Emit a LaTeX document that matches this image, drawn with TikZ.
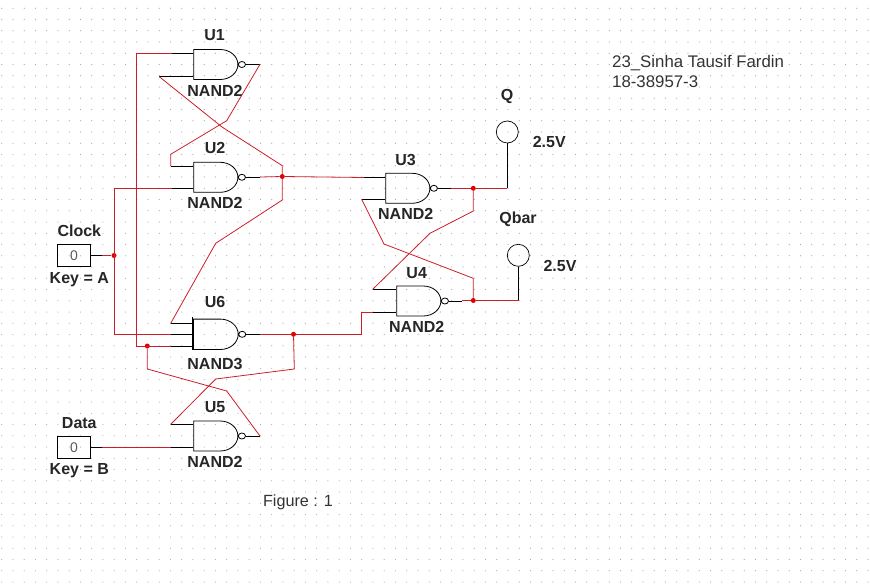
\documentclass[tikz,border=0pt]{standalone}
\usepackage{fontspec}
\setmainfont{Liberation Sans}
\usetikzlibrary{positioning,calc,shapes.gates.logic.US}
\definecolor{wirered}{RGB}{204,30,42}
\definecolor{griddot}{RGB}{170,170,170}
\tikzset{gatetwo/.style={nand gate US,draw,logic gate inputs=nn,logic gate input sep=10pt,xscale=1.18,transform shape,inner sep=0pt,logic gate inverted radius=3pt,line width=.8pt}}
\tikzset{gatethree/.style={nand gate US,draw,logic gate inputs=nnn,logic gate input sep=7.5pt,xscale=1.18,transform shape,inner sep=0pt,logic gate inverted radius=3pt,line width=.8pt}}
\tikzset{wire/.style={draw=wirered,line width=.8pt}}
\tikzset{stub/.style={draw=black,line width=.8pt}}
\tikzset{jdot/.style={circle,fill=red!90!black,minimum size=5pt,inner sep=0pt}}
\tikzset{lab/.style={font=\bfseries\fontsize{16}{16}\selectfont,text=black!85,inner sep=0pt}}
\tikzset{plain/.style={font=\fontsize{16.8}{16}\selectfont,text=black!80,inner sep=0pt}}
\tikzset{keybox/.style={draw,minimum width=33.5pt,minimum height=22pt,inner sep=0pt,line width=.7pt,font=\fontsize{14}{14}\selectfont,text=black!65}}
\tikzset{probe/.style={draw,circle,minimum size=22pt,inner sep=0pt,line width=.7pt}}

\begin{document}
\begin{tikzpicture}[x=1pt,y=-1pt]
	\useasboundingbox (0,0) rectangle (870,586);
	% grid of the drawing sheet
	\foreach \i in {0,...,77}
		\foreach \j in {0,...,51}
			\fill[griddot] (1.7+11.25*\i,8.3+11.25*\j) circle (.6pt);

	% gates
	\node[gatetwo] (U1) at (214.3,64.5) {};
	\node[gatetwo] (U2) at (214.3,177.3) {};
	\node[gatetwo] (U3) at (406.3,188.3) {};
	\node[gatetwo] (U4) at (417.3,301) {};
	\node[gatetwo] (U5) at (214.3,436) {};
	\node[gatethree] (U6) at (214.3,334.3) {};
	\coordinate (f5) at (192.3,316.7);
	\coordinate (f6) at (192.3,350);
	\draw[stub] (f5) -- (f6);

	% sources and probes
	\node[keybox] (clk) at (74,255.5) {0};
	\node[keybox] (dat) at (74,447.2) {0};
	\node[probe] (pq) at (507.3,132) {};
	\node[probe] (pqb) at (518.3,255.3) {};

	% junctions
	\node[jdot] (j1) at (114,255.5) {};
	\node[jdot] (j2) at (282.3,176.5) {};
	\node[jdot] (j3) at (473.3,188.3) {};
	\node[jdot] (j4) at (473.3,300.5) {};
	\node[jdot] (j5) at (293.5,334.3) {};
	\node[jdot] (j6) at (147.3,346) {};

	% ends of the black pins
	\coordinate (a1) at (172,53.5);
	\coordinate (a2) at (159.3,76.7);
	\coordinate (a3) at (260,64.3);
	\coordinate (b1) at (170.7,166);
	\coordinate (b2) at (172,188.3);
	\coordinate (b3) at (260,177);
	\coordinate (c1) at (364,177.5);
	\coordinate (c2) at (361.7,199.3);
	\coordinate (c3) at (450.7,188.3);
	\coordinate (d1) at (372.7,289.3);
	\coordinate (d2) at (373,312.3);
	\coordinate (d3) at (461.7,300.5);
	\coordinate (e1) at (170.7,424.3);
	\coordinate (e2) at (170.7,447.2);
	\coordinate (e3) at (260,436);
	\coordinate (f1) at (170.7,323.3);
	\coordinate (f2) at (170.7,334.3);
	\coordinate (f3) at (170.7,346);
	\coordinate (f4) at (260,334.3);
	\coordinate (cl) at (102,255.5);
	\coordinate (dl) at (102,447.2);
	\coordinate (qc) at (507.3,188.3);
	\coordinate (qbc) at (519.3,300.5);

	\draw[stub] (a1) -- (a1 -| U1.west) (a2) -- (a2 -| U1.west) (U1.output) -- (U1.output -| a3);
	\draw[stub] (b1) -- (b1 -| U2.west) (b2) -- (b2 -| U2.west) (U2.output) -- (U2.output -| b3);
	\draw[stub] (c1) -- (c1 -| U3.west) (c2) -- (c2 -| U3.west) (U3.output) -- (U3.output -| c3);
	\draw[stub] (d1) -- (d1 -| U4.west) (d2) -- (d2 -| U4.west) (U4.output) -- (U4.output -| d3);
	\draw[stub] (e1) -- (e1 -| U5.west) (e2) -- (e2 -| U5.west) (U5.output) -- (U5.output -| e3);
	\draw[stub] (f1) -- (f1 -| U6.west) (f2) -- (f2 -| U6.west) (f3) -- (f3 -| U6.west) (U6.output) -- (U6.output -| f4);
	\draw[stub] (clk) -- (cl) (dat) -- (dl) (pq) -- (qc) (pqb) -- (pqb |- qbc);

	% nets
	\draw[wire] (a1) -- (136.7,53.5) -- (136.7,346) -- (f3);
	\draw[wire] (a2) -- (222,127) -- (282.3,165.7) -- (j2);
	\draw[wire] (a3) -- (226.7,120.7) -- (170.7,154.3) -- (b1);
	\draw[wire] (b2) -- (114,188.3) -- (114,334.3) -- (f2);
	\draw[wire] (cl) -- (j1);
	\draw[wire] (b3) -- (j2) -- (c1);
	\draw[wire] (j2) -- (282.3,200) -- (215.7,243.3) -- (f1);
	\draw[wire] (c3) -- (j3) -- (qc);
	\draw[wire] (j3) -- (473.3,211) -- (430,233.3) -- (d1);
	\draw[wire] (c2) -- (384,244) -- (473.3,278.3) -- (j4);
	\draw[wire] (d3) -- (j4) -- (qbc);
	\draw[wire] (f4) -- (j5) -- (361,334.3) -- (361,312.3) -- (d2);
	\draw[wire] (j5) -- (294.3,369) -- (215.7,379) -- (e1);
	\draw[wire] (j6) -- (147.3,369) -- (226.7,391) -- (e3);
	\draw[wire] (dl) -- (e2);

	% labels
	\node[lab] (lu1) at (214.5,35) {U1};
	\node[lab] (nu1) at (215,90.7) {NAND2};
	\node[lab] (lu2) at (215,148) {U2};
	\node[lab] (nu2) at (215,203) {NAND2};
	\node[lab] (lu3) at (405.5,160) {U3};
	\node[lab] (nu3) at (405.7,214.3) {NAND2};
	\node[lab] (lu4) at (416.7,272.7) {U4};
	\node[lab] (nu4) at (416.7,326.7) {NAND2};
	\node[lab] (lu5) at (215,406.7) {U5};
	\node[lab] (nu5) at (215,461.7) {NAND2};
	\node[lab] (lu6) at (215,301.7) {U6};
	\node[lab] (nu6) at (215,364.3) {NAND3};
	\node[lab] (lclk) at (79.3,231) {Clock};
	\node[lab] (kclk) at (79.3,279.5) {Key = A};
	\node[lab] (ldat) at (79.3,423) {Data};
	\node[lab] (kdat) at (79.3,470.5) {Key = B};
	\node[lab] (lq) at (507,96) {Q};
	\node[lab] (vq) at (549.3,141.7) {2.5V};
	\node[lab] (lqb) at (518,219.5) {Qbar};
	\node[lab] (vqb) at (560,265.7) {2.5V};
	\node[plain,anchor=west] (nm) at (612,63) {23\_Sinha Tausif Fardin};
	\node[plain,anchor=west] (id) at (612,81.6) {18-38957-3};
	\node[plain,font=\fontsize{16.2}{16}\selectfont] (fig) at (298,502) {Figure : 1};
\end{tikzpicture}
\end{document}
